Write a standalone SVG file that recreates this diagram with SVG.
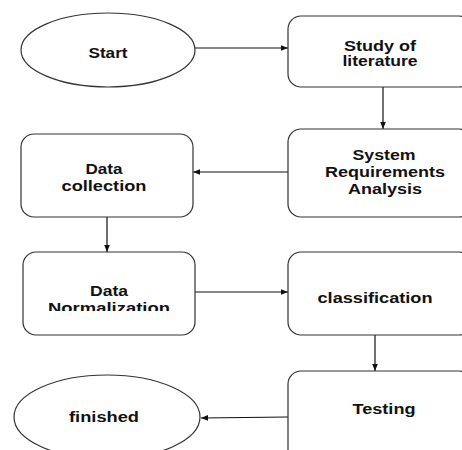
<svg xmlns="http://www.w3.org/2000/svg" width="462" height="450" viewBox="0 0 462 450">
<defs>
<style>
.n{fill:#fff;stroke:#333;stroke-width:1.2}
.t{font-family:"Liberation Sans",Arial,sans-serif;font-weight:bold;font-size:14px;fill:#111;text-anchor:middle}
.c{stroke:#111;stroke-width:1.2;fill:none;marker-end:url(#ah)}
</style>
<marker id="ah" viewBox="0 0 10 10" refX="10" refY="5" markerWidth="7" markerHeight="7" markerUnits="userSpaceOnUse" orient="auto">
<path d="M0,1 L10,5 L0,9 z" fill="#111"/>
</marker>
<clipPath id="dnclip"><rect x="0" y="250" width="220" height="61"/></clipPath>
</defs>
<rect width="462" height="450" fill="#fff"/>
<g id="connectors">
<line class="c" x1="195" y1="48" x2="288" y2="48"/>
<line class="c" x1="383" y1="87" x2="383" y2="129"/>
<line class="c" x1="288" y1="172" x2="193" y2="172"/>
<line class="c" x1="107" y1="217" x2="107" y2="252"/>
<line class="c" x1="195" y1="292" x2="288" y2="292"/>
<line class="c" x1="375" y1="335" x2="375" y2="371"/>
<line class="c" x1="288" y1="417" x2="201" y2="418"/>
</g>
<g id="start">
<ellipse class="n" cx="108" cy="50" rx="87" ry="37"/>
<text class="t" x="108" y="58" textLength="39" lengthAdjust="spacingAndGlyphs">Start</text>
</g>
<g id="study">
<rect class="n" x="288" y="16" width="184" height="71" rx="13"/>
<text class="t" x="380" y="51" textLength="72" lengthAdjust="spacingAndGlyphs">Study of</text>
<text class="t" x="380" y="66" textLength="75" lengthAdjust="spacingAndGlyphs">literature</text>
</g>
<g id="sra">
<rect class="n" x="288" y="129" width="184" height="88" rx="13"/>
<text class="t" x="384" y="160" textLength="63" lengthAdjust="spacingAndGlyphs">System</text>
<text class="t" x="385" y="177" textLength="120" lengthAdjust="spacingAndGlyphs">Requirements</text>
<text class="t" x="385" y="194" textLength="74" lengthAdjust="spacingAndGlyphs">Analysis</text>
</g>
<g id="datacollection">
<rect class="n" x="21" y="134" width="172" height="83" rx="13"/>
<text class="t" x="104" y="174" textLength="37" lengthAdjust="spacingAndGlyphs">Data</text>
<text class="t" x="104" y="191" textLength="85" lengthAdjust="spacingAndGlyphs">collection</text>
</g>
<g id="normalization">
<rect class="n" x="23" y="252" width="172" height="83" rx="13"/>
<g clip-path="url(#dnclip)">
<text class="t" x="109" y="296" textLength="38" lengthAdjust="spacingAndGlyphs">Data</text>
<text class="t" x="109" y="313" textLength="122" lengthAdjust="spacingAndGlyphs">Normalization</text>
</g>
</g>
<g id="classification">
<rect class="n" x="288" y="252" width="184" height="83" rx="13"/>
<text class="t" x="375" y="303" textLength="115" lengthAdjust="spacingAndGlyphs">classification</text>
</g>
<g id="testing">
<rect class="n" x="288" y="371" width="184" height="100" rx="13"/>
<text class="t" x="384" y="414" textLength="63" lengthAdjust="spacingAndGlyphs">Testing</text>
</g>
<g id="finished">
<ellipse class="n" cx="107" cy="417" rx="93" ry="42"/>
<text class="t" x="104" y="422" textLength="70" lengthAdjust="spacingAndGlyphs">finished</text>
</g>
</svg>
